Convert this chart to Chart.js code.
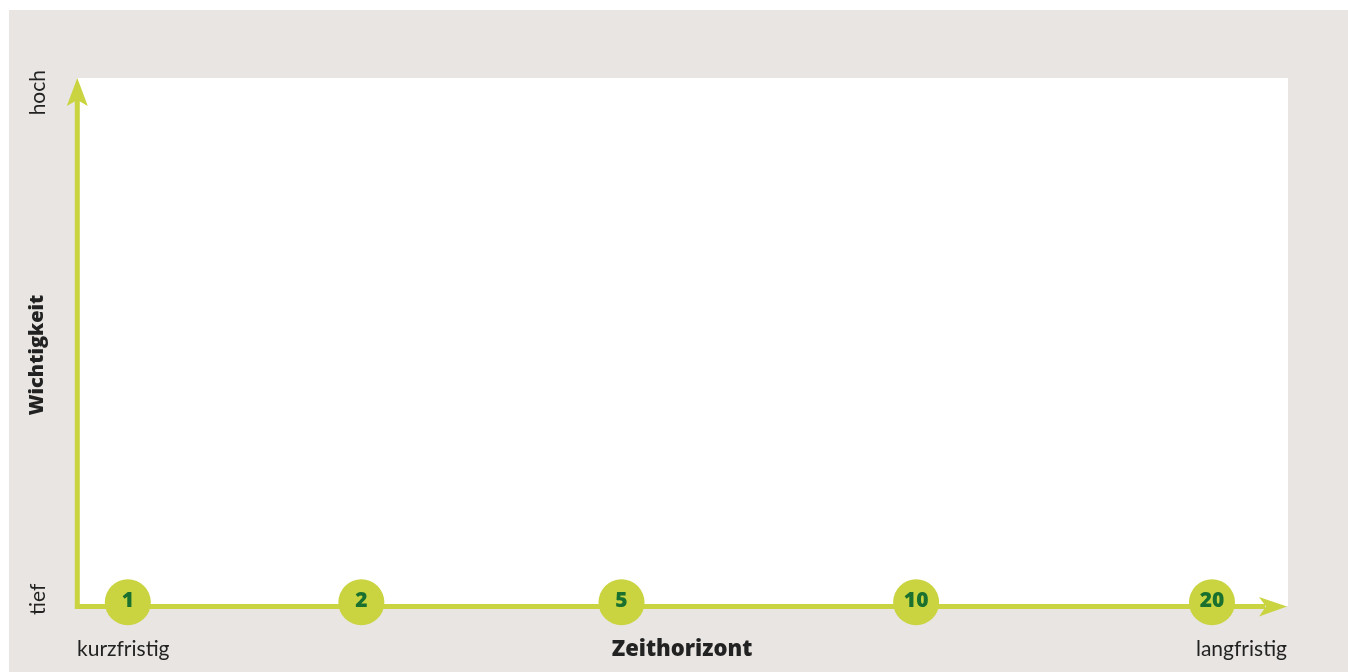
<!DOCTYPE html>
<html><head><meta charset="utf-8">
<style>html,body{margin:0;padding:0;background:#fff;overflow:hidden}#wrap{position:relative;width:1348px;height:672px}canvas{display:block}</style>
<script src="https://cdn.jsdelivr.net/npm/chart.js@4/dist/chart.umd.min.js"></script>
</head><body><div id="wrap"><canvas id="c" width="1348" height="672"></canvas></div>
<script>
// ---- data ----
const horizonLabels = ['1', '2', '5', '10', '20'];      // years
const horizonPos = [4.2, 23.5, 45.0, 69.35, 93.8];      // position along time axis (% of axis)
const importance = [0, 0, 0, 0, 0];                     // all on the baseline ("tief")
const xEndLabels = ['kurzfristig', 'langfristig'];
const xTitle = 'Zeithorizont';
const yEndLabels = ['tief', 'hoch'];
const yTitle = 'Wichtigkeit';

// ---- style ----
const LIME = '#c9d440';
const GREEN = '#19702f';
const PANEL = '#e8e5e2';
const TEXT = '#222222';
const FONT = 'Lato, "Noto Sans", sans-serif';
const BFONT = '"Open Sans", "Noto Sans", sans-serif';

const points = horizonPos.map((x, i) => ({x: x, y: importance[i]}));

const bgPlugin = {
  id: 'bg',
  beforeDraw(chart) {
    const {ctx, chartArea: a} = chart;
    ctx.save();
    ctx.fillStyle = '#ffffff';
    ctx.fillRect(0, 0, chart.width, chart.height);
    ctx.fillStyle = PANEL;
    ctx.fillRect(9, 10, chart.width - 9, chart.height - 10);
    ctx.fillStyle = '#ffffff';
    ctx.fillRect(a.left, a.top, a.right - a.left + 1, a.bottom - a.top);
    ctx.restore();
  }
};

const axesPlugin = {
  id: 'arrows',
  beforeDatasetsDraw(chart) {
    const {ctx, chartArea: a} = chart;
    const x0 = a.left + 0.3, y0 = a.bottom + 0.5;
    ctx.save();
    ctx.strokeStyle = LIME;
    ctx.fillStyle = LIME;
    ctx.lineWidth = 5;
    ctx.lineCap = 'butt';
    ctx.beginPath();
    ctx.moveTo(x0, y0 + 2.5);
    ctx.lineTo(x0, a.top + 22);
    ctx.moveTo(x0 - 2.5, y0);
    ctx.lineTo(a.right - 22, y0);
    ctx.stroke();
    // vertical arrow head
    ctx.beginPath();
    ctx.moveTo(x0, a.top);
    ctx.lineTo(x0 - 10.5, a.top + 28);
    ctx.lineTo(x0, a.top + 22);
    ctx.lineTo(x0 + 10.5, a.top + 28);
    ctx.closePath();
    ctx.fill();
    // horizontal arrow head
    ctx.beginPath();
    ctx.moveTo(a.right, y0);
    ctx.lineTo(a.right - 28, y0 - 9.5);
    ctx.lineTo(a.right - 21, y0);
    ctx.lineTo(a.right - 28, y0 + 10);
    ctx.closePath();
    ctx.fill();
    ctx.restore();
  },
  afterDatasetsDraw(chart) {
    const {ctx} = chart;
    const meta = chart.getDatasetMeta(0);
    ctx.save();
    ctx.fillStyle = GREEN;
    ctx.font = '800 21px ' + BFONT;
    ctx.textAlign = 'center';
    ctx.textBaseline = 'middle';
    meta.data.forEach((el, i) => {
      ctx.fillText(horizonLabels[i], el.x, el.y - 1);
    });
    ctx.restore();
  },
  afterDraw(chart) {
    const {ctx} = chart;
    ctx.save();
    ctx.fillStyle = TEXT;
    ctx.textBaseline = 'alphabetic';
    // hoch
    ctx.save();
    ctx.translate(44.5, 70);
    ctx.rotate(-Math.PI / 2);
    ctx.font = '400 21px ' + FONT;
    ctx.textAlign = 'right';
    ctx.fillText(yEndLabels[1], 0, 0);
    ctx.restore();
    // tief
    ctx.save();
    ctx.translate(44.5, 615);
    ctx.rotate(-Math.PI / 2);
    ctx.font = '400 21px ' + FONT;
    ctx.textAlign = 'left';
    ctx.fillText(yEndLabels[0], 0, 0);
    ctx.restore();
    // Wichtigkeit
    ctx.save();
    ctx.translate(43, 355);
    ctx.rotate(-Math.PI / 2);
    ctx.font = '800 20px ' + BFONT;
    ctx.textAlign = 'center';
    ctx.fillText(yTitle, 0, 0);
    ctx.restore();
    ctx.restore();
  }
};

new Chart(document.getElementById('c'), {
  type: 'scatter',
  data: {
    datasets: [{
      data: points,
      backgroundColor: LIME,
      borderWidth: 0,
      pointRadius: 23,
      pointHoverRadius: 23,
      clip: false
    }]
  },
  options: {
    responsive: false,
    animation: false,
    devicePixelRatio: 1,
    layout: {padding: {left: 77, top: 78, right: 61, bottom: 0}},
    plugins: {legend: {display: false}, tooltip: {enabled: false}},
    events: [],
    scales: {
      x: {
        type: 'linear', min: 0, max: 100, position: 'bottom',
        afterBuildTicks: s => { s.ticks = [{value: 0}, {value: 100}]; },
        afterFit: s => { s.height = 66; },
        grid: {display: false, drawTicks: false},
        border: {display: false},
        ticks: {
          callback: (v, i) => xEndLabels[i],
          align: 'inner', autoSkip: false, maxRotation: 0, minRotation: 0,
          padding: 31, color: TEXT,
          font: {family: FONT, size: 21, weight: '400'}
        },
        title: {
          display: true, text: xTitle, color: TEXT,
          font: {family: BFONT, size: 22, weight: '800'},
          padding: {top: 0, bottom: 9}
        }
      },
      y: {
        type: 'linear', min: -0.7, max: 100, display: false
      }
    }
  },
  plugins: [bgPlugin, axesPlugin]
});
</script>
</body></html>
